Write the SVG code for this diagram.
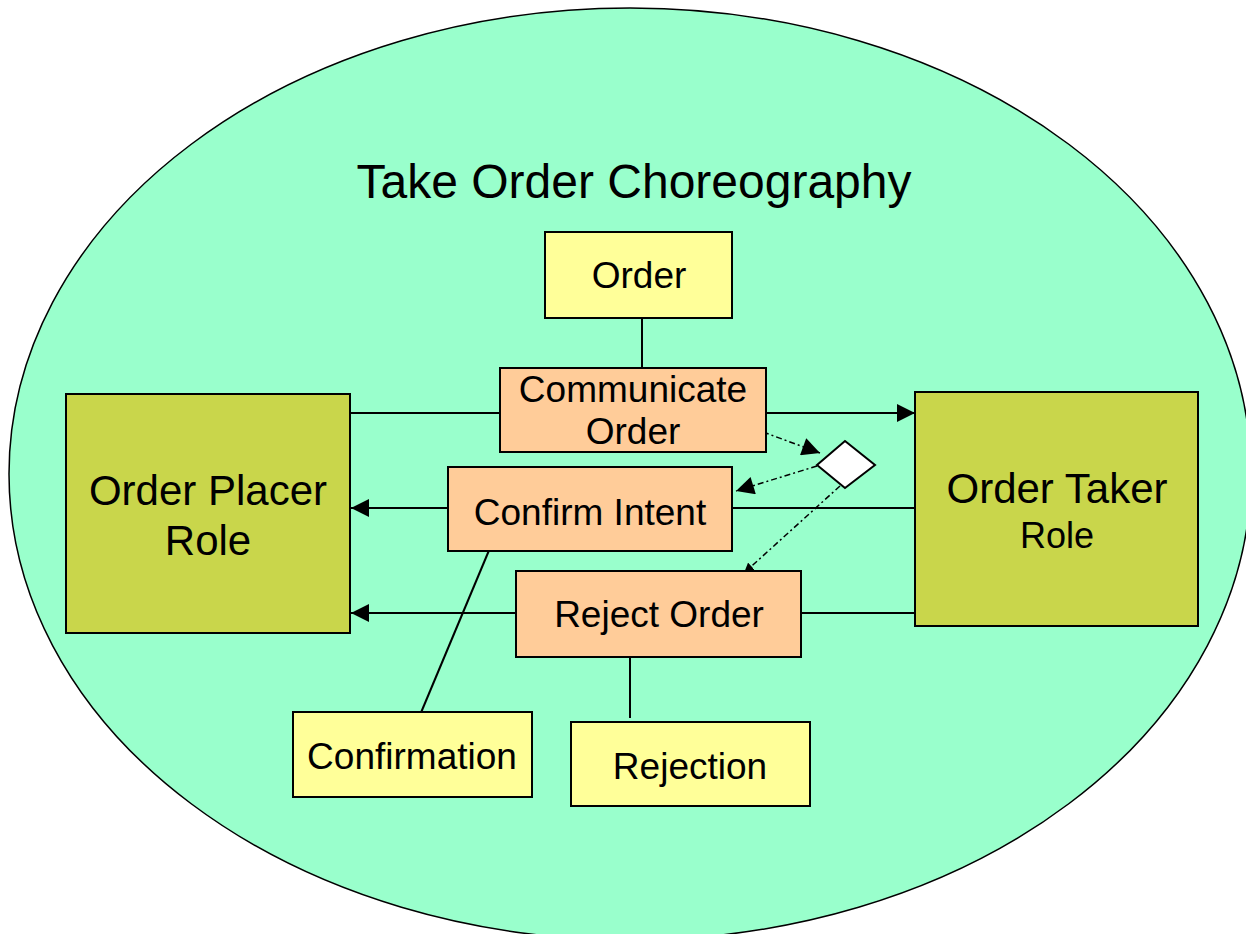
<svg xmlns="http://www.w3.org/2000/svg" width="1246" height="934" viewBox="0 0 1246 934">
<style>
text{font-family:"Liberation Sans",Arial,sans-serif;fill:#000;text-anchor:middle}
.box{stroke:#000;stroke-width:2}
.yel{fill:#ffff99}
.org{fill:#ffcc99}
.role{fill:#c9d64b}
.ln{stroke:#000;stroke-width:2;fill:none}
.dash{stroke:#000;stroke-width:1.5;fill:none;stroke-dasharray:6 3 2 3}
</style>
<defs>
<marker id="ah" viewBox="0 0 10 10" refX="10" refY="5" markerWidth="10" markerHeight="10" markerUnits="userSpaceOnUse" orient="auto"><path d="M0,0L10,5L0,10z" fill="#000"/></marker>
<marker id="ab" viewBox="0 0 10 10" refX="10" refY="5" markerWidth="20" markerHeight="18" markerUnits="userSpaceOnUse" orient="auto"><path d="M0,0L10,5L0,10z" fill="#000"/></marker>
</defs>
<rect width="1246" height="934" fill="#fff"/>
<ellipse cx="630" cy="474" rx="621" ry="466" fill="#99ffcc" stroke="#000" stroke-width="1.5"/>
<text x="634" y="198" font-size="48">Take Order Choreography</text>
<g id="connectors">
<line class="ln" x1="642" y1="318" x2="642" y2="368"/>
<line class="ln" x1="350" y1="413" x2="500" y2="413"/>
<line class="ln" x1="766" y1="413" x2="915" y2="413" marker-end="url(#ab)"/>
<line class="ln" x1="448" y1="508" x2="351" y2="508" marker-end="url(#ab)"/>
<line class="ln" x1="732" y1="508" x2="915" y2="508"/>
<line class="ln" x1="516" y1="613" x2="351" y2="613" marker-end="url(#ab)"/>
<line class="ln" x1="801" y1="613" x2="915" y2="613"/>
<line class="ln" x1="490" y1="548" x2="420" y2="715"/>
<line class="ln" x1="630" y1="657" x2="630" y2="718"/>
<path class="dash" d="M763,432L820,453" marker-end="url(#ab)"/>
<path class="dash" d="M817,466L736,491" marker-end="url(#ab)"/>
<path class="dash" d="M840,486L744,573" marker-end="url(#ah)"/>
</g>
<g id="order"><rect class="box yel" x="545" y="232" width="187" height="86"/><text x="639" y="288" font-size="37">Order</text></g>
<g id="communicate-order"><rect class="box org" x="500" y="368" width="266" height="84"/><text x="633" y="402" font-size="37">Communicate</text><text x="633" y="444" font-size="37">Order</text></g>
<g id="order-placer-role"><rect class="box role" x="66" y="394" width="284" height="239"/><text x="208" y="505" font-size="42">Order Placer</text><text x="208" y="555" font-size="42">Role</text></g>
<g id="order-taker-role"><rect class="box role" x="915" y="392" width="283" height="234"/><text x="1057" y="503" font-size="42">Order Taker</text><text x="1057" y="548" font-size="36">Role</text></g>
<g id="confirm-intent"><rect class="box org" x="448" y="467" width="284" height="84"/><text x="590" y="525" font-size="37">Confirm Intent</text></g>
<g id="reject-order"><rect class="box org" x="516" y="571" width="285" height="86"/><text x="659" y="627" font-size="37">Reject Order</text></g>
<g id="decision"><polygon points="845,441 875,465 845,488 817,465" fill="#fff" stroke="#000" stroke-width="2"/></g>
<g id="confirmation"><rect class="box yel" x="293" y="712" width="239" height="85"/><text x="412" y="769" font-size="37">Confirmation</text></g>
<g id="rejection"><rect class="box yel" x="571" y="722" width="239" height="84"/><text x="690" y="779" font-size="37">Rejection</text></g>
</svg>
